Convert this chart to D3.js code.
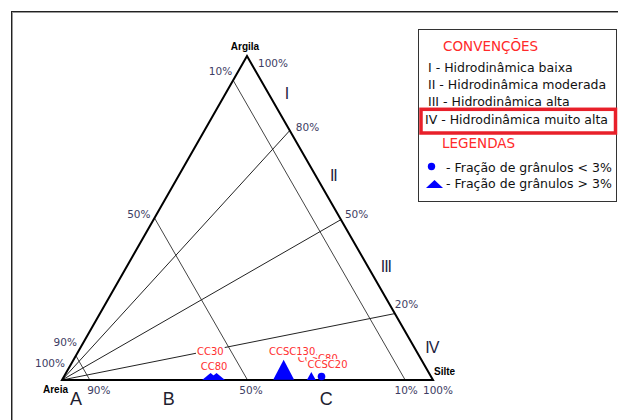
<!DOCTYPE html>
<html>
<head>
<meta charset="utf-8">
<script src="https://cdn.jsdelivr.net/npm/d3@7/dist/d3.min.js"></script>
<style>
  body { margin: 0; background: #fff; }
  svg text { font-family: "DejaVu Sans", sans-serif; }
</style>
</head>
<body>
<div id="chart"></div>
<script>
// amostras (percentuais areia / silte / argila)
const amostras = ["CC30", "CC80", "CC80", "CCSC80", "CCSC130", "CCSC20"];
const areia    = [57.3, 59.6, 58.0, 32.4, 39.2, 29.5];
const silte    = [38.9, 39.7, 41.3, 66.8, 58.7, 69.4];
const argila   = [3.8, 0.7, 0.7, 0.8, 2.1, 1.1];
const granulos = ["<3%", ">3%", ">3%", ">3%", ">3%", "<3%"];

// divisoes do diagrama
const areiaDiv = [92.5, 50, 7.5];        // linhas de areia constante
const argilaRaios = [77, 49.5, 20.5];    // raios do vertice Areia ate a borda Silte-Argila
const classes = ["A", "B", "C"];
const zonas = ["I", "II", "III", "IV"];

// rotulos das escalas
const ticksEsq = [7.5, 50, 92.5, 100];
const ticksEsqLabels = ["10%", "50%", "90%", "100%"];
const ticksDir = [100, 77, 49.5, 20.5];
const ticksDirLabels = ["100%", "80%", "50%", "20%"];
const ticksBase = [92.5, 50, 7.5, 0];
const ticksBaseLabels = ["90%", "50%", "10%", "100%"];

const convencoes = ["I - Hidrodinâmica baixa", "II - Hidrodinâmica moderada", "III - Hidrodinâmica alta", "IV - Hidrodinâmica muito alta"];
const legendas = ["- Fração de grânulos < 3%", "- Fração de grânulos > 3%"];

// ---- layout ----
const width = 618, height = 420;
const vA = [62, 380], vS = [433, 380], vG = [247, 56];

const xScale = d3.scaleLinear().domain([0, 100]).range([vA[0], vS[0]]);
const yScale = d3.scaleLinear().domain([0, 100]).range([vA[1], vG[1]]);
const gShift = d3.scaleLinear().domain([0, 100]).range([0, vG[0] - vA[0]]);
const proj = (a, s, g) => [xScale(s) + gShift(g), yScale(g)];

const marcador = {
    CC30: { r: 1 }, CC80: { w: 17, h: 7 }, CCSC80: { w: 9, h: 8 },
    CCSC130: { w: 21, h: 20 }, CCSC20: { r: 3.8 }
};
const rotuloOff = {
    CC30: [-3, -12.7], CC80: [3.5, -8], CCSC80: [6.5, -15],
    CCSC130: [8.5, -18], CCSC20: [6, -8.5]
};
const offEsq = [[-1, -5], [-4, 0], [1, -10], [3, -13]];
const offDir = [[11, 11], [6, 0], [4, -2], [0, -6]];
const offBase = [9, 3.5, 1, 5];

const tri = (w, h) => `M0,${-2 * h / 3}L${w / 2},${h / 3}L${-w / 2},${h / 3}Z`;

const svg = d3.select('#chart')
    .append('svg')
    .attr('width', width)
    .attr('height', height);

// moldura
svg.append('rect')
    .attr('x', 11.5).attr('y', 11.5)
    .attr('width', 700).attr('height', 500)
    .attr('fill', 'none').attr('stroke', '#222').attr('stroke-width', 1);
svg.append('rect')
    .attr('x', 12.5).attr('y', 12.5)
    .attr('width', 700).attr('height', 500)
    .attr('fill', 'none').attr('stroke', '#999').attr('stroke-width', 1);

const line = d3.line();
const g = svg.append('g');

// linhas de areia constante
g.selectAll('.iso')
    .data(areiaDiv)
    .enter()
    .append('path')
    .attr('d', d => line([proj(d, 0, 100 - d), proj(d, 100 - d, 0)]))
    .attr('stroke', '#444').attr('stroke-width', 1).attr('fill', 'none');

// raios a partir de Areia
g.selectAll('.raio')
    .data(argilaRaios)
    .enter()
    .append('path')
    .attr('d', d => line([proj(100, 0, 0), proj(0, 100 - d, d)]))
    .attr('stroke', '#222').attr('stroke-width', 1).attr('fill', 'none');

// triangulo
g.append('path')
    .attr('d', line([proj(100, 0, 0), proj(0, 100, 0), proj(0, 0, 100)]) + 'Z')
    .attr('fill', 'none').attr('stroke', '#000').attr('stroke-width', 2)
    .attr('stroke-linejoin', 'miter');

// vertices
const vertTxt = [["Areia", proj(100, 0, 0), 'end', 6, 13], ["Silte", proj(0, 100, 0), 'start', 1, -5], ["Argila", proj(0, 0, 100), 'middle', -2, -6]];
g.selectAll('.vert')
    .data(vertTxt)
    .enter()
    .append('text')
    .attr('x', d => d[1][0] + d[3]).attr('y', d => d[1][1] + d[4])
    .attr('text-anchor', d => d[2])
    .style('font-family', '"Liberation Sans", Arial, sans-serif')
    .style('font-weight', 'bold').style('font-size', '10px')
    .text(d => d[0]);

const pctColor = '#3d3d63';
// escala esquerda
g.selectAll('.tEsq')
    .data(ticksEsq)
    .enter()
    .append('text')
    .attr('x', (d, i) => proj(d, 0, 100 - d)[0] + offEsq[i][0])
    .attr('y', (d, i) => proj(d, 0, 100 - d)[1] + offEsq[i][1])
    .attr('text-anchor', 'end')
    .attr('fill', pctColor).style('font-size', '10.5px')
    .text((d, i) => ticksEsqLabels[i]);

// escala direita
g.selectAll('.tDir')
    .data(ticksDir)
    .enter()
    .append('text')
    .attr('x', (d, i) => proj(0, 100 - d, d)[0] + offDir[i][0])
    .attr('y', (d, i) => proj(0, 100 - d, d)[1] + offDir[i][1])
    .attr('fill', pctColor).style('font-size', '10.5px')
    .text((d, i) => ticksDirLabels[i]);

// escala base
g.selectAll('.tBase')
    .data(ticksBase)
    .enter()
    .append('text')
    .attr('x', (d, i) => proj(d, 100 - d, 0)[0] + offBase[i])
    .attr('y', (d, i) => proj(d, 100 - d, 0)[1] + 14)
    .attr('text-anchor', 'middle')
    .attr('fill', pctColor).style('font-size', '10.5px')
    .text((d, i) => ticksBaseLabels[i]);

// zonas hidrodinamicas (entre os raios)
const limZonas = [100].concat(argilaRaios, [0]);
g.selectAll('.zona')
    .data(zonas)
    .enter()
    .append('text')
    .attr('x', (d, i) => {
        const m = (limZonas[i] + limZonas[i + 1]) / 2;
        return proj(0, 100 - m, m)[0] + 18;
    })
    .attr('y', (d, i) => {
        const m = (limZonas[i] + limZonas[i + 1]) / 2;
        return proj(0, 100 - m, m)[1];
    })
    .attr('dy', '0.36em')
    .attr('text-anchor', 'middle')
    .attr('fill', '#1e1e40')
    .style('font-family', '"Liberation Sans", Arial, sans-serif')
    .style('font-size', '16px').style('letter-spacing', '-1px')
    .text(d => d);

// classes (entre as linhas de areia)
const limClasses = [100].concat(areiaDiv);
g.selectAll('.classe')
    .data(classes)
    .enter()
    .append('text')
    .attr('x', (d, i) => {
        const m = (limClasses[i] + limClasses[i + 1]) / 2;
        return proj(m, 100 - m, 0)[0];
    })
    .attr('y', vA[1] + 25)
    .attr('text-anchor', 'middle')
    .attr('fill', '#1e1e30')
    .style('font-family', '"Liberation Sans", Arial, sans-serif')
    .style('font-size', '18px')
    .text(d => d);

// marcadores
const pts = amostras.map((n, i) => ({ nome: n, p: proj(areia[i], silte[i], argila[i]), tipo: granulos[i] }));
g.selectAll('.pt')
    .data(pts)
    .enter()
    .append('path')
    .attr('transform', d => `translate(${d.p[0]},${d.p[1]})`)
    .attr('d', d => {
        const m = marcador[d.nome];
        return d.tipo === '<3%' ? d3.arc()({ innerRadius: 0, outerRadius: m.r, startAngle: 0, endAngle: 2 * Math.PI }) : tri(m.w, m.h);
    })
    .attr('fill', '#0000ff');

// rotulos das amostras
const vistos = new Set();
pts.filter(d => !vistos.has(d.nome) && vistos.add(d.nome)).forEach(d => {
    const lg = g.append('g');
    const t = lg.append('text')
        .attr('x', d.p[0] + rotuloOff[d.nome][0])
        .attr('y', d.p[1] + rotuloOff[d.nome][1])
        .attr('text-anchor', 'middle')
        .attr('fill', '#ff3030')
        .style('font-size', '10px')
        .text(d.nome);
    const bb = t.node().getBBox();
    lg.insert('rect', 'text')
        .attr('x', bb.x - 1).attr('y', bb.y)
        .attr('width', bb.width + 2).attr('height', bb.height)
        .attr('fill', '#fff');
});

// legenda
const leg = svg.append('g');
leg.append('rect')
    .attr('x', 418.5).attr('y', 29.5)
    .attr('width', 198).attr('height', 172)
    .attr('fill', '#fff').attr('stroke', '#333').attr('stroke-width', 1);

leg.append('text')
    .attr('x', 443).attr('y', 51)
    .attr('fill', '#ff2a2a').style('font-size', '13.5px')
    .text('CONVENÇÕES');

leg.selectAll('.conv')
    .data(convencoes)
    .enter()
    .append('text')
    .attr('x', (d, i) => i === 3 ? 425 : 428)
    .attr('y', (d, i) => 72 + i * 17.2)
    .attr('fill', '#111').style('font-size', '12.5px')
    .text(d => d);

leg.append('rect')
    .attr('x', 421).attr('y', 109.3)
    .attr('width', 194.5).attr('height', 23.7)
    .attr('fill', 'none').attr('stroke', '#e8202a').attr('stroke-width', 3.5);

leg.append('text')
    .attr('x', 442).attr('y', 148)
    .attr('fill', '#ff2a2a').style('font-size', '13.5px')
    .text('LEGENDAS');

leg.append('circle')
    .attr('cx', 431.5).attr('cy', 166.5).attr('r', 3.7)
    .attr('fill', '#0000ff');
leg.append('path')
    .attr('transform', `translate(434.5,${188 - 8 / 3})`)
    .attr('d', tri(17, 8))
    .attr('fill', '#0000ff');

leg.selectAll('.lg')
    .data(legendas)
    .enter()
    .append('text')
    .attr('x', 446)
    .attr('y', (d, i) => 171.7 + i * 16)
    .attr('fill', '#111').style('font-size', '12.5px')
    .text(d => d);
</script>
</body>
</html>
